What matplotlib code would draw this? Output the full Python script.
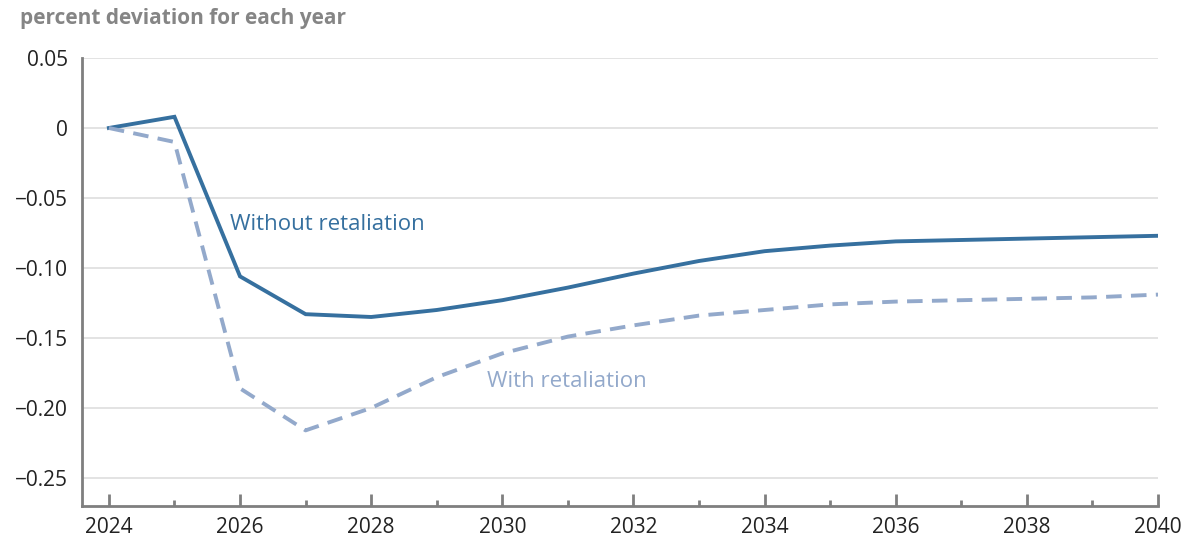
import matplotlib.pyplot as plt
from matplotlib.ticker import MultipleLocator

plt.rcParams['font.family'] = ['Open Sans', 'DejaVu Sans']

# Data
years = list(range(2024, 2041))
without_retaliation = [0.0, 0.008, -0.106, -0.133, -0.135, -0.130, -0.123, -0.114,
                       -0.104, -0.095, -0.088, -0.084, -0.081, -0.080, -0.079, -0.078, -0.077]
with_retaliation = [0.0, -0.010, -0.186, -0.216, -0.200, -0.178, -0.161, -0.149,
                    -0.141, -0.134, -0.130, -0.126, -0.124, -0.123, -0.122, -0.121, -0.119]

y_ticks = [0.05, 0, -0.05, -0.10, -0.15, -0.20, -0.25]
y_labels = ['0.05', '0', '\u22120.05', '\u22120.10', '\u22120.15', '\u22120.20', '\u22120.25']
x_ticks = list(range(2024, 2041, 2))

dark_blue = '#36709f'
light_blue = '#93a9cb'
axis_gray = '#7f7f7f'

fig = plt.figure(figsize=(11.92, 5.40), dpi=100)
ax = fig.add_axes([0.0688, 0.063, 0.9027, 0.8296])

# Gridlines
ax.set_yticks(y_ticks)
ax.set_yticklabels(y_labels)
ax.yaxis.grid(True, color='#dedede', linewidth=1.2)
ax.set_axisbelow(True)

# Lines
ax.plot(years, without_retaliation, color=dark_blue, linewidth=2.8, solid_joinstyle='miter')
ax.plot(years, with_retaliation, color=light_blue, linewidth=2.8, linestyle=(0, (4, 2.4)))

# Labels on the lines
ax.text(2025.85, -0.0686, 'Without retaliation', color=dark_blue, fontsize=16,
        va='center', ha='left')
ax.text(2029.77, -0.181, 'With retaliation', color=light_blue, fontsize=16,
        va='center', ha='left')

ax.set_xlim(2023.59, 2040)
ax.set_ylim(-0.27, 0.05)
ax.set_xticks(x_ticks)
ax.xaxis.set_minor_locator(MultipleLocator(1))

for side in ['top', 'right']:
    ax.spines[side].set_visible(False)
for side in ['left', 'bottom']:
    ax.spines[side].set_color(axis_gray)
    ax.spines[side].set_linewidth(2)

ax.tick_params(axis='x', which='major', direction='in', length=9, width=2,
               color=axis_gray, labelsize=15, labelcolor='#222222', pad=8)
ax.tick_params(axis='x', which='minor', direction='in', length=4.5, width=2,
               color=axis_gray)
ax.tick_params(axis='y', length=0, labelsize=15, labelcolor='#222222', pad=10)

# Unit label at top-left
fig.text(0.017, 0.966, 'percent deviation for each year', color='#858585',
         fontsize=15, fontweight='bold', va='center', ha='left')

fig.savefig('out.png', dpi=100)
